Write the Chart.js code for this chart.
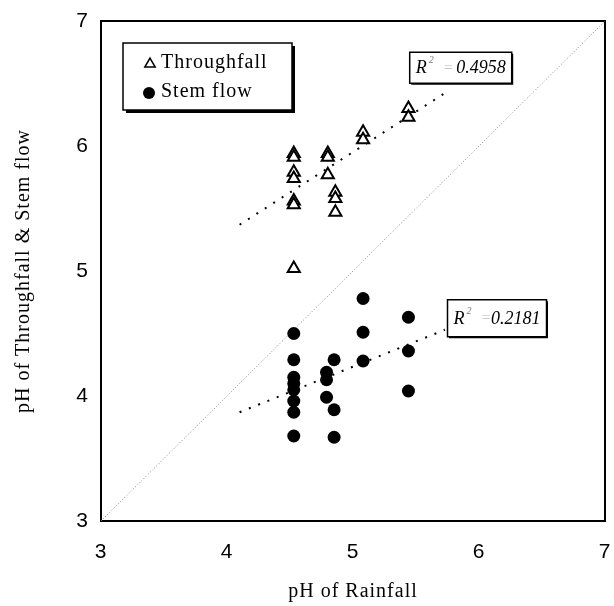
<!DOCTYPE html>
<html>
<head>
<meta charset="utf-8">
<title>pH of Rainfall vs Throughfall &amp; Stem flow</title>
<script src="https://cdn.jsdelivr.net/npm/chart.js@4.4.0/dist/chart.umd.min.js"></script>
<style>
    html, body { margin: 0; padding: 0; background: #fff; }
    .chart-box { width: 614px; height: 606px; }
</style>
</head>
<body>
<div class="chart-box"><canvas id="ph_chart" width="614" height="606"></canvas></div>
<script>
// pH values
const axis_ticks = [3, 4, 5, 6, 7];

const throughfall_rain = [4.53, 4.53, 4.53, 4.53, 4.53, 4.53, 4.53, 4.80, 4.80, 4.80, 4.86, 4.86, 4.86, 5.08, 5.08, 5.44, 5.44];
const throughfall_ph = [5.94, 5.91, 5.79, 5.74, 5.56, 5.53, 5.02, 5.94, 5.91, 5.77, 5.63, 5.58, 5.47, 6.11, 6.05, 6.30, 6.23];

const stemflow_rain = [4.53, 4.53, 4.53, 4.53, 4.53, 4.53, 4.53, 4.53, 4.79, 4.79, 4.79, 4.85, 4.85, 4.85, 5.08, 5.08, 5.08, 5.44, 5.44, 5.44];
const stemflow_ph = [4.50, 4.29, 4.15, 4.10, 4.05, 3.96, 3.87, 3.68, 4.19, 4.13, 3.99, 4.29, 3.89, 3.67, 4.78, 4.51, 4.28, 4.63, 4.36, 4.04];

// trend lines (end points as drawn)
const throughfall_trend_x = [4.10, 5.74];
const throughfall_trend_y = [5.37, 6.43];
const stemflow_trend_x = [4.10, 5.73];
const stemflow_trend_y = [3.87, 4.53];
const one_to_one = [3, 7];

const r2_values = ["0.4958", "0.2181"];

const toPoints = (xs, ys) => xs.map((x, i) => ({ x: x, y: ys[i] }));

const framePlugin = {
    id: "frame",
    beforeDraw(chart) {
        // wider spacing for the scanned-looking axis titles
        chart.ctx.letterSpacing = "1px";
    },
    beforeDatasetsDraw(chart) {
        const { ctx, chartArea } = chart;
        ctx.letterSpacing = "0px";
        ctx.save();
        ctx.strokeStyle = "#000";
        ctx.lineWidth = 2;
        ctx.strokeRect(chartArea.left, chartArea.top, chartArea.right - chartArea.left, chartArea.bottom - chartArea.top);
        ctx.restore();
    },
};

const drawShadowBox = (ctx, x, y, w, h, shadow) => {
    ctx.fillStyle = "#000";
    ctx.fillRect(x + shadow, y + shadow, w, h);
    ctx.fillStyle = "#fff";
    ctx.fillRect(x, y, w, h);
    ctx.strokeStyle = "#000";
    ctx.lineWidth = 1.5;
    ctx.strokeRect(x, y, w, h);
};

const boxPlugin = {
    id: "boxes",
    afterDatasetsDraw(chart) {
        const { ctx, chartArea, scales } = chart;
        ctx.save();

        // legend
        const lx = chartArea.left + 22;
        const ly = chartArea.top + 22;
        drawShadowBox(ctx, lx, ly, 169, 67, 3);
        ctx.fillStyle = "#fff";
        ctx.strokeStyle = "#000";
        Chart.helpers.drawPoint(ctx, { pointStyle: "triangle", radius: 6, borderWidth: 2, rotation: 0 }, lx + 27, ly + 21);
        ctx.fillStyle = "#000";
        Chart.helpers.drawPoint(ctx, { pointStyle: "circle", radius: 6, borderWidth: 0, rotation: 0 }, lx + 26, ly + 50);
        ctx.fillStyle = "#000";
        ctx.font = "20px 'Liberation Serif'";
        ctx.textBaseline = "middle";
        ctx.textAlign = "left";
        ctx.letterSpacing = "1px";
        ctx.fillText("Throughfall", lx + 38, ly + 20);
        ctx.fillText("Stem flow", lx + 38, ly + 49);
        ctx.letterSpacing = "0px";

        // R² boxes, anchored on the data scales
        const r2Boxes = [
            { x: scales.x.getPixelForValue(5.45), y: scales.y.getPixelForValue(6.75), w: 102, h: 31, text: r2_values[0] },
            { x: scales.x.getPixelForValue(5.75), y: scales.y.getPixelForValue(4.77), w: 99, h: 37, text: r2_values[1] },
        ];
        r2Boxes.forEach((b) => {
            drawShadowBox(ctx, b.x, b.y, b.w, b.h, 1.5);
            const cy = b.y + b.h / 2 + 1;
            ctx.fillStyle = "#000";
            ctx.font = "italic 18px 'Liberation Serif'";
            ctx.textAlign = "left";
            ctx.fillText("R", b.x + 6, cy);
            ctx.fillStyle = "#777";
            ctx.font = "italic 10px 'Liberation Serif'";
            ctx.fillText("2", b.x + 19, cy - 8);
            ctx.fillStyle = "#ccc";
            ctx.font = "italic 16px 'Liberation Serif'";
            ctx.fillText("=", b.x + 33, cy);
            ctx.fillStyle = "#000";
            ctx.font = "italic 18px 'Liberation Serif'";
            ctx.textAlign = "right";
            ctx.fillText(b.text, b.x + b.w - 6, cy);
        });

        ctx.restore();
    },
};

document.addEventListener("DOMContentLoaded", () => {
    const ctx = document.querySelector("#ph_chart");

    new Chart(ctx, {
        type: "scatter",
        data: {
            datasets: [
                {
                    label: "Throughfall",
                    data: toPoints(throughfall_rain, throughfall_ph),
                    pointStyle: "triangle",
                    pointRadius: 7,
                    pointBorderWidth: 2,
                    borderColor: "#000",
                    backgroundColor: "#fff",
                },
                {
                    label: "Stem flow",
                    data: toPoints(stemflow_rain, stemflow_ph),
                    pointStyle: "circle",
                    pointRadius: 6.5,
                    pointBorderWidth: 0,
                    borderColor: "#000",
                    backgroundColor: "#000",
                },
                {
                    label: "Throughfall trend",
                    data: toPoints(throughfall_trend_x, throughfall_trend_y),
                    showLine: true,
                    pointRadius: 0,
                    borderColor: "#000",
                    borderWidth: 2,
                    borderDash: [2, 8],
                },
                {
                    label: "Stem flow trend",
                    data: toPoints(stemflow_trend_x, stemflow_trend_y),
                    showLine: true,
                    pointRadius: 0,
                    borderColor: "#000",
                    borderWidth: 2,
                    borderDash: [2, 8],
                },
                {
                    label: "1:1",
                    data: toPoints(one_to_one, one_to_one),
                    showLine: true,
                    pointRadius: 0,
                    borderColor: "#888",
                    borderWidth: 1,
                    borderDash: [1, 2],
                },
            ],
        },
        options: {
            responsive: false,
            animation: false,
            devicePixelRatio: 1,
            layout: {
                padding: { top: 21, right: 4, bottom: 0, left: 0 },
            },
            scales: {
                x: {
                    type: "linear",
                    min: 3,
                    max: 7,
                    afterBuildTicks: (scale) => {
                        scale.ticks = axis_ticks.map((v) => ({ value: v }));
                    },
                    afterFit: (scale) => {
                        scale.height = 85;
                        scale.paddingLeft = 0;
                        scale.paddingRight = 0;
                    },
                    grid: { display: false, drawTicks: false },
                    border: { display: false },
                    ticks: {
                        color: "#000",
                        padding: 19,
                        maxRotation: 0,
                        font: { family: "'Liberation Sans'", size: 21 },
                    },
                    title: {
                        display: true,
                        text: "pH of Rainfall",
                        color: "#000",
                        font: { family: "'Liberation Serif'", size: 20 },
                        padding: { top: 0, bottom: 2 },
                    },
                },
                y: {
                    type: "linear",
                    min: 3,
                    max: 7,
                    afterBuildTicks: (scale) => {
                        scale.ticks = axis_ticks.map((v) => ({ value: v }));
                    },
                    afterFit: (scale) => {
                        scale.width = 101;
                        scale.paddingTop = 0;
                        scale.paddingBottom = 0;
                    },
                    grid: { display: false, drawTicks: false },
                    border: { display: false },
                    ticks: {
                        color: "#000",
                        padding: 12,
                        font: { family: "'Liberation Sans'", size: 21 },
                    },
                    title: {
                        display: true,
                        text: "pH of Throughfall & Stem flow",
                        color: "#000",
                        font: { family: "'Liberation Serif'", size: 20 },
                        padding: { top: 12, bottom: 0 },
                    },
                },
            },
            plugins: {
                legend: { display: false },
                tooltip: { enabled: false },
            },
        },
        plugins: [framePlugin, boxPlugin],
    });
});
</script>
</body>
</html>
